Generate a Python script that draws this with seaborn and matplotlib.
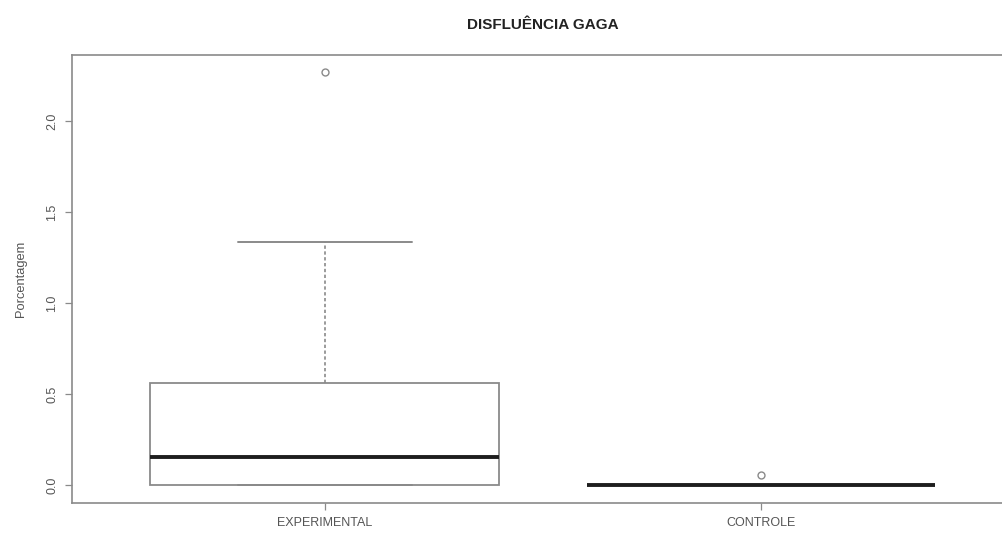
import numpy as np
import pandas as pd
import matplotlib
matplotlib.use("Agg")
import matplotlib.pyplot as plt
import seaborn as sns

groups = ["EXPERIMENTAL", "CONTROLE"]
experimental = [0.0, 0.0, 0.0, 0.0, 0.05, 0.10, 0.155, 0.25, 0.40, 0.56, 0.80, 1.335, 2.27]
controle = [0.0] * 12 + [0.055]
yticks = [0.0, 0.5, 1.0, 1.5, 2.0]
title = "DISFLUÊNCIA GAGA"
ylabel = "Porcentagem"

df = pd.DataFrame({
    "grupo": [groups[0]] * len(experimental) + [groups[1]] * len(controle),
    "valor": experimental + controle,
})

sns.set_style("white")
plt.rcParams["font.family"] = ["Liberation Sans", "DejaVu Sans"]

fig = plt.figure(figsize=(10.03, 5.33), dpi=100)
ax = fig.add_axes([72 / 1003, 30 / 533, 942 / 1003, 448 / 533])

edge = "#8a8a8a"
sns.boxplot(
    data=df, x="grupo", y="valor", order=groups, ax=ax,
    color="white", linecolor=edge, linewidth=1.3, width=0.8,
    whis=1.5,
    medianprops=dict(color="#1e1e1e", linewidth=2.8),
    whiskerprops=dict(color=edge, linestyle=(0, (2, 1.5)), linewidth=1.2),
    capprops=dict(color=edge, linewidth=1.4),
    flierprops=dict(marker="o", markerfacecolor="none", markeredgecolor="#8a8a8a",
                    markersize=5, markeredgewidth=1.0),
)

ax.set_xlim(-0.58, 1.58)
ax.set_ylim(-0.0995, 2.3625)
ax.set_yticks(yticks)
ax.set_yticklabels([f"{v:.1f}" for v in yticks], rotation=90, va="center",
                   fontsize=9, color="#555555")
ax.set_xticks(range(len(groups)))
ax.set_xticklabels(groups, fontsize=9, color="#555555")
ax.tick_params(axis="both", direction="out", length=5, width=0.9, color="#8a8a8a",
               left=True, bottom=True, pad=5)
for s in ax.spines.values():
    s.set_color("#8a8a8a")
    s.set_linewidth(1.2)
ax.set_xlabel("")
ax.set_ylabel(ylabel, fontsize=9.3, color="#555555", labelpad=14)
ax.set_title(title, fontsize=11, fontweight="bold", color="#222222", pad=19)

fig.savefig("out.png", dpi=100, facecolor="white")
